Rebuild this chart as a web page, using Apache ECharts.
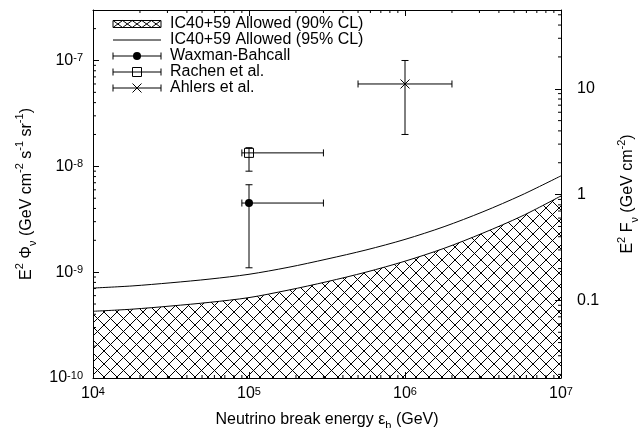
<!DOCTYPE html>
<html><head><meta charset="utf-8">
<script src="https://cdn.jsdelivr.net/npm/echarts@6/dist/echarts.min.js"></script>
<style>html,body{margin:0;padding:0;background:#fff}#c{width:639px;height:428px}</style>
</head><body><div id="c"></div>
<script>
// ---- data ----
const energies = [1e4, 1.78e4, 3.16e4, 5.62e4, 1e5, 1.78e5, 3.16e5, 5.62e5, 1e6, 1.78e6, 3.16e6, 5.62e6, 1e7];
const limit95 = [7.08e-10, 7.41e-10, 7.94e-10, 8.61e-10, 9.55e-10, 1.11e-9, 1.33e-9, 1.62e-9, 2.04e-9, 2.69e-9, 3.72e-9, 5.37e-9, 8.13e-9];
const limit90 = [4.27e-10, 4.47e-10, 4.79e-10, 5.19e-10, 5.75e-10, 6.76e-10, 8.13e-10, 1.0e-9, 1.27e-9, 1.68e-9, 2.34e-9, 3.39e-9, 5.25e-9];
// [E, flux, E low, E high, flux low, flux high]
const waxmanBahcall = [1e5, 4.5e-9, 9e4, 3e5, 1.1e-9, 6.7e-9];
const rachen = [1e5, 1.34e-8, 9e4, 3e5, 9e-9, 1.5e-8];
const ahlers = [1e6, 6e-8, 5e5, 2e6, 2e-8, 1e-7];
const legendLabels = ['IC40+59 Allowed (90% CL)', 'IC40+59 Allowed (95% CL)', 'Waxman-Bahcall', 'Rachen et al.', 'Ahlers et al.'];
const xRange = [1e4, 1e7];
const yRange = [1e-10, 3e-7];
const y2Range = [0.0185, 55.5];
const xDecades = [1e4, 1e5, 1e6];
const yDecades = [1e-10, 1e-9, 1e-8, 1e-7];
const y2Decades = [0.01, 0.1, 1, 10];
const minorMultipliers = [2, 3, 4, 5, 6, 7, 8, 9];

// ---- helpers ----
const FONT = 'Liberation Sans, Arial, sans-serif';
const BLACK = '#000';
function minorList(decades, lo, hi) {
  const out = [];
  decades.forEach(d => minorMultipliers.forEach(m => { const v = d * m; if (v > lo * 1.0001 && v < hi * 0.9999) out.push(v); }));
  return out;
}
function seg(x1, y1, x2, y2, w) {
  return { type: 'line', shape: { x1, y1, x2, y2 }, style: { stroke: BLACK, lineWidth: w || 1 } };
}
function symbolShape(kind, cx, cy) {
  if (kind === 'circle') return { type: 'circle', shape: { cx, cy, r: 4 }, style: { fill: BLACK } };
  if (kind === 'square') return { type: 'rect', shape: { x: cx - 4.5, y: cy - 4.5, width: 9, height: 9 }, style: { fill: 'none', stroke: BLACK, lineWidth: 1 } };
  return { type: 'group', children: [seg(cx - 4.5, cy - 4.5, cx + 4.5, cy + 4.5), seg(cx - 4.5, cy + 4.5, cx + 4.5, cy - 4.5)] };
}

const hatch = document.createElement('canvas');
hatch.width = 13; hatch.height = 13;
(function () {
  const c = hatch.getContext('2d');
  c.strokeStyle = BLACK; c.lineWidth = 1;
  c.beginPath();
  c.moveTo(-1, -1); c.lineTo(14, 14);
  c.moveTo(14, -1); c.lineTo(-1, 14);
  c.stroke();
})();

function errorBarSeries(name, point, kind) {
  return {
    type: 'custom', name, coordinateSystem: 'cartesian2d', xAxisIndex: 0, yAxisIndex: 0,
    clip: false, z: 5, silent: true, data: [point], encode: { x: 0, y: 1 },
    renderItem(params, api) {
      const c = api.coord([api.value(0), api.value(1)]);
      const l = api.coord([api.value(2), api.value(1)]);
      const r = api.coord([api.value(3), api.value(1)]);
      const b = api.coord([api.value(0), api.value(4)]);
      const t = api.coord([api.value(0), api.value(5)]);
      const cap = 3.5;
      return {
        type: 'group', children: [
          seg(l[0], l[1], r[0], r[1]), seg(b[0], b[1], t[0], t[1]),
          seg(l[0], l[1] - cap, l[0], l[1] + cap), seg(r[0], r[1] - cap, r[0], r[1] + cap),
          seg(b[0] - cap, b[1], b[0] + cap, b[1]), seg(t[0] - cap, t[1], t[0] + cap, t[1]),
          symbolShape(kind, c[0], c[1])
        ]
      };
    }
  };
}

function minorTickSeries(kind, values) {
  const isY2 = kind === 'y2';
  return {
    type: 'custom', coordinateSystem: 'cartesian2d', xAxisIndex: 0, yAxisIndex: isY2 ? 1 : 0,
    clip: false, silent: true, z: 3,
    data: values.map(v => kind === 'x' ? [v, yRange[0]] : [xRange[0], v]),
    renderItem(params, api) {
      if (kind === 'x') {
        const v = api.value(0);
        const b = api.coord([v, yRange[0]]);
        const t = api.coord([v, yRange[1]]);
        return { type: 'group', children: [seg(b[0], b[1], b[0], b[1] - 3), seg(t[0], t[1], t[0], t[1] + 3)] };
      }
      const v = api.value(1);
      if (kind === 'y') {
        const p = api.coord([xRange[0], v]);
        return seg(p[0], p[1], p[0] + 3, p[1]);
      }
      const p = api.coord([xRange[1], v]);
      return seg(p[0], p[1], p[0] - 3, p[1]);
    }
  };
}

const powLabel = v => '{n|10}{s|' + Math.round(Math.log10(v)) + '}';
const powRich = {
  n: { fontSize: 16, lineHeight: 16, verticalAlign: 'bottom', fontFamily: FONT, color: BLACK },
  s: { fontSize: 11, lineHeight: 11, verticalAlign: 'top', padding: [0, 0, 10, 0], fontFamily: FONT, color: BLACK }
};
const titleRich = {
  n: { fontSize: 16, lineHeight: 24, verticalAlign: 'middle', fontFamily: FONT, color: BLACK },
  sup: { fontSize: 11, lineHeight: 11, verticalAlign: 'top', fontFamily: FONT, color: BLACK },
  sub: { fontSize: 11, lineHeight: 11, verticalAlign: 'bottom', fontFamily: FONT, color: BLACK }
};
const axisLine = { show: true, lineStyle: { color: BLACK, width: 1 } };
const majorTick = { show: true, inside: true, length: 6, lineStyle: { color: BLACK, width: 1 } };

// ---- legend (drawn as graphics) ----
const LX = 113, LW = 48, TX = 170, rows = [24, 40, 56, 72, 88];
const legendEls = [];
(function () {
  const y0 = rows[0], h = 7;
  for (let i = 0; i < 5; i++) {
    const a = LX + i * LW / 5, b = LX + (i + 1) * LW / 5;
    legendEls.push(seg(a, y0 - h / 2, b, y0 + h / 2), seg(a, y0 + h / 2, b, y0 - h / 2));
  }
  legendEls.push({ type: 'rect', shape: { x: LX, y: y0 - h / 2, width: LW, height: h }, style: { fill: 'none', stroke: BLACK, lineWidth: 1 } });
  legendEls.push(seg(LX, rows[1], LX + LW, rows[1]));
  ['circle', 'square', 'cross'].forEach((k, i) => {
    const y = rows[i + 2];
    legendEls.push(seg(LX, y, LX + LW, y), seg(LX, y - 3.5, LX, y + 3.5), seg(LX + LW, y - 3.5, LX + LW, y + 3.5));
    legendEls.push(symbolShape(k, LX + LW / 2, y));
  });
  legendLabels.forEach((t, i) => legendEls.push({
    type: 'text', x: TX, y: rows[i],
    style: { text: t, fill: BLACK, font: '16px ' + FONT, verticalAlign: 'middle', align: 'left' }
  }));
})();

const chart = echarts.init(document.getElementById('c'), null, { renderer: 'canvas' });
chart.setOption({
  animation: false,
  backgroundColor: '#fff',
  textStyle: { fontFamily: FONT, color: BLACK },
  grid: { left: 93, right: 78, top: 10, bottom: 50, containLabel: false, outerBoundsMode: 'none' },
  xAxis: [
    {
      type: 'log', logBase: 10, min: xRange[0], max: xRange[1], position: 'bottom',
      axisLine, axisTick: majorTick, splitLine: { show: false },
      axisLabel: { formatter: powLabel, rich: powRich, margin: 8 },
      name: '{n|Neutrino break energy ε}{sub|b}{n| (GeV)}', nameLocation: 'middle', nameGap: 26,
      nameTextStyle: { rich: titleRich }
    },
    {
      type: 'log', logBase: 10, min: xRange[0], max: xRange[1], position: 'top',
      axisLine, axisTick: majorTick, splitLine: { show: false }, axisLabel: { show: false }
    }
  ],
  yAxis: [
    {
      type: 'log', logBase: 10, min: yRange[0], max: yRange[1], position: 'left',
      axisLine, axisTick: majorTick, splitLine: { show: false },
      axisLabel: { formatter: powLabel, rich: powRich, margin: 10, showMaxLabel: false },
      name: '{n|E}{sup|2}{n| Φ}{sub|ν}{n| (GeV cm}{sup|-2}{n| s}{sup|-1}{n| sr}{sup|-1}{n|)}',
      nameLocation: 'middle', nameGap: 50, nameRotate: 90,
      nameTextStyle: { rich: titleRich }
    },
    {
      type: 'log', logBase: 10, min: y2Range[0], max: y2Range[1], position: 'right',
      axisLine, axisTick: majorTick, splitLine: { show: false },
      axisLabel: { formatter: v => String(+v.toPrecision(3)), fontSize: 16, color: BLACK, margin: 16, showMinLabel: false, showMaxLabel: false },
      name: '{n|E}{sup|2}{n| F}{sub|ν}{n| (GeV cm}{sup|-2}{n|)}',
      nameLocation: 'middle', nameGap: 55, nameRotate: 90,
      nameTextStyle: { rich: titleRich }
    }
  ],
  series: [
    {
      type: 'line', name: legendLabels[0], data: energies.map((e, i) => [e, limit90[i]]),
      symbol: 'none', smooth: 0.3, lineStyle: { color: BLACK, width: 1 },
      areaStyle: { color: { image: hatch, repeat: 'repeat' }, opacity: 1, origin: 'start' }, z: 2
    },
    {
      type: 'line', name: legendLabels[1], data: energies.map((e, i) => [e, limit95[i]]),
      symbol: 'none', smooth: 0.3, lineStyle: { color: BLACK, width: 1 }, z: 2
    },
    errorBarSeries(legendLabels[2], waxmanBahcall, 'circle'),
    errorBarSeries(legendLabels[3], rachen, 'square'),
    errorBarSeries(legendLabels[4], ahlers, 'cross'),
    minorTickSeries('x', minorList(xDecades, xRange[0], xRange[1])),
    minorTickSeries('y', minorList(yDecades, yRange[0], yRange[1])),
    minorTickSeries('y2', minorList(y2Decades, y2Range[0], y2Range[1]))
  ],
  graphic: [{ type: 'group', silent: true, children: legendEls }]
});
</script></body></html>
